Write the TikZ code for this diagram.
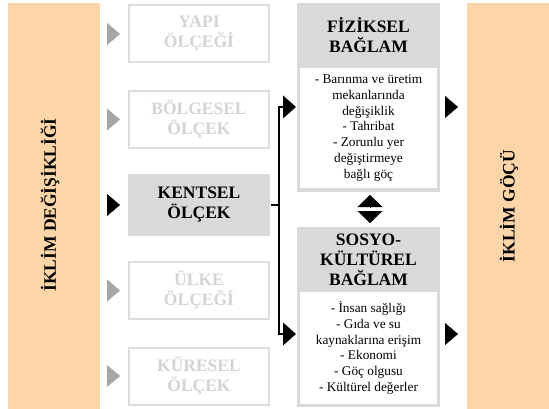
\documentclass[tikz,border=0pt]{standalone}
\usepackage{fontspec}
\setmainfont{Liberation Serif}
\usetikzlibrary{arrows.meta}

\definecolor{barorange}{HTML}{FCD5A8}
\definecolor{boxgrey}{HTML}{D9D9D9}
\definecolor{linegrey}{HTML}{DEDEDE}
\definecolor{fadetext}{HTML}{D4D4D4}
\definecolor{tipgrey}{HTML}{A6A6A6}

\newcommand{\headfont}{\bfseries\fontsize{17.5}{20}\selectfont}
\newcommand{\bodyfont}{\fontsize{13.3}{15.7}\selectfont}

\tikzset{
    bar/.style={fill=barorange, inner sep=0pt, outer sep=0pt, minimum height=406pt},
    bartext/.style={rotate=90, font=\headfont, inner sep=0pt},
    scalebox/.style={draw=linegrey, line width=2pt, fill=white, text=fadetext,
        minimum width=140pt, minimum height=57pt, align=center, font=\headfont},
    activebox/.style={draw=none, fill=boxgrey, text=black,
        minimum width=142pt, minimum height=62pt},
    ctxbox/.style={fill=boxgrey, inner sep=0pt, outer sep=0pt, minimum width=143pt},
    ctxtitle/.style={align=center, font=\headfont, inner sep=0pt},
    ctxbody/.style={fill=white, inner sep=0pt, minimum width=137pt, align=center, font=\bodyfont},
    greytip/.style={-{Triangle[length=13pt,width=22pt]}, tipgrey, shorten <=7pt, shorten >=8pt},
    blacktip/.style={-{Triangle[length=13pt,width=22pt]}, black, shorten <=5pt, shorten >=9pt},
    bracket/.style={line width=2.4pt, -{Triangle[length=13pt,width=23pt,line width=0pt]}, shorten >=1pt},
    updown/.style={-{Triangle[length=12pt,width=25pt]}, shorten <=2pt}
}

\begin{document}
\begin{tikzpicture}[x=1pt,y=-1pt]
    \useasboundingbox (0,0) rectangle (549,409);

    % side bars
    \node[bar, minimum width=92pt] (lbar) at (54,206) {};
    \node[bar, minimum width=82pt] (rbar) at (508,206) {};
    \node[bartext] (ltxt) at (50,205) {İKLİM DEĞİŞİKLİĞİ};
    \node[bartext] (rtxt) at (509,206) {İKLİM GÖÇÜ};

    % scales
    \node[scalebox]            (yapi)  at (199,34)    {YAPI\\ÖLÇEĞİ};
    \node[scalebox]            (bolge) at (199,119.5) {BÖLGESEL\\ÖLÇEK};
    \node[scalebox, activebox] (kent)  at (199,205)   {KENTSEL\\ÖLÇEK};
    \node[scalebox]            (ulke)  at (199,290.5) {ÜLKE\\ÖLÇEĞİ};
    \node[scalebox]            (kure)  at (199,376)   {KÜRESEL\\ÖLÇEK};

    % contexts
    \node[ctxbox, minimum height=189pt] (fiz) at (368.5,97.5) {};
    \node[ctxtitle] (fizt) at (368.5,35.5) {FİZİKSEL\\BAĞLAM};
    \node[ctxbody, minimum height=120pt] (fizb) at (368.5,128)
        {- Barınma ve üretim\\mekanlarında\\değişiklik\\- Tahribat\\- Zorunlu yer\\değiştirmeye\\bağlı göç};
    \node[ctxbox, minimum height=180pt] (sos) at (368.5,317) {};
    \node[ctxtitle] (sost) at (368.5,260) {SOSYO-\\KÜLTÜREL\\BAĞLAM};
    \node[ctxbody, minimum height=112pt] (sosb) at (368.5,348)
        {- İnsan sağlığı\\- Gıda ve su\\kaynaklarına erişim\\- Ekonomi\\- Göç olgusu\\- Kültürel değerler};

    \coordinate (fizin) at (297,107);
    \coordinate (sosin) at (297,334);
    \coordinate (dmid)  at (370,209);

    % arrows
    \foreach \b in {yapi,bolge,ulke,kure}
        \draw[greytip] (lbar.east |- \b) -- (\b.west);
    \draw[blacktip, shorten <=7pt, shorten >=7pt] (lbar.east |- kent) -- (kent.west);
    \draw[bracket] (kent.east) -- ++(8,0) coordinate (fork) |- (fizin);
    \draw[bracket] (fork) |- (sosin);
    \draw[blacktip] (fiz.east |- fizin) -- (rbar.west |- fizin);
    \draw[blacktip] (sos.east |- sosin) -- (rbar.west |- sosin);
    \draw[updown, shorten >=3pt] (dmid) -- (dmid |- fiz.south);
    \draw[updown, shorten >=4pt] (dmid) -- (dmid |- sos.north);
\end{tikzpicture}
\end{document}
